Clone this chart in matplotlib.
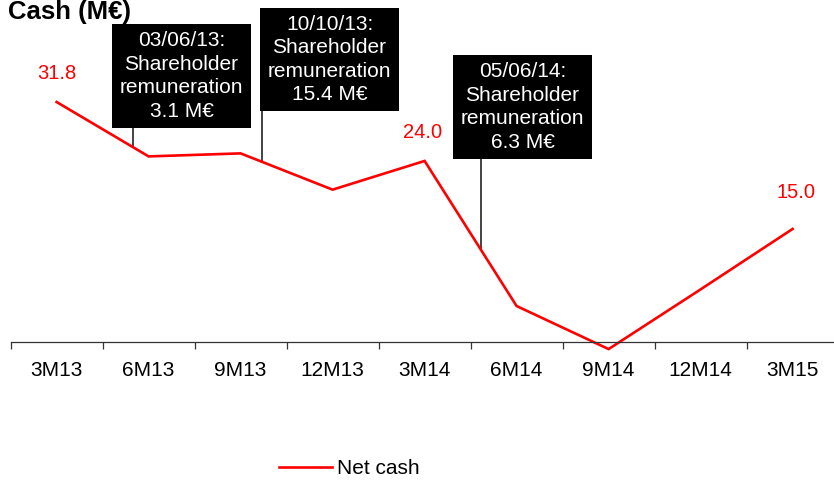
import numpy as np
import matplotlib
matplotlib.use("Agg")
import matplotlib.pyplot as plt
from matplotlib.patches import Rectangle

# quarterly net cash, M EUR
quarters = ["3M13", "6M13", "9M13", "12M13", "3M14", "6M14", "9M14", "12M14", "3M15"]
net_cash = [31.8, 24.6, 25.0, 20.2, 24.0, 4.8, -0.9, 7.0, 15.0]
labelled = [0, 4, 8]   # which points carry a value label

# shareholder remuneration events
notes = ["03/06/13:\nShareholder\nremuneration\n3.1 M€",
         "10/10/13:\nShareholder\nremuneration\n15.4 M€",
         "05/06/14:\nShareholder\nremuneration\n6.3 M€"]
note_x = [0.83, 2.233, 4.613]      # event position on the quarter axis

plt.rcParams['font.family'] = ['Liberation Sans', 'DejaVu Sans']
plt.rcParams['font.size'] = 15

fig = plt.figure(figsize=(8.34, 4.8), dpi=100)
ax = fig.add_axes([10.6/834, 1 - 357.4/480, 828/834, 357.4/480])

idx = np.arange(len(quarters))
line, = ax.plot(idx, net_cash, color='#ff0000', lw=1.9, label='Net cash',
                clip_on=False, solid_joinstyle='miter')

# value labels
offsets = {0: (0, 29), 4: (-2, 28), 8: (3, 36)}
for i in labelled:
    ax.annotate("%.1f" % net_cash[i], (idx[i], net_cash[i]), xytext=offsets[i],
                textcoords='offset pixels', ha='center', va='center',
                color='#ff0000', fontsize=14.5)

# black note boxes with a stem down to the curve
box_left = [0.602, 2.211, 4.309]
box_bottom = [28.36, 30.6, 24.26]
box_w, box_h = 1.511, 13.7
for txt, xe, bl, bb in zip(notes, note_x, box_left, box_bottom):
    ye = np.interp(xe, idx, net_cash)
    ax.plot([xe, xe], [ye, bb], color='#111111', lw=1.1, zorder=1)
    ax.add_patch(Rectangle((bl, bb), box_w, box_h, facecolor='black',
                           edgecolor='none', clip_on=False, zorder=3))
    ax.text(bl + box_w/2, bb + box_h/2, txt, color='white', ha='center',
            va='center', fontsize=15, linespacing=1.3, zorder=4)

ax.set_xlim(-0.5, 8.5)
ax.set_ylim(-2, 45.3)
for s in ['left', 'right', 'top']:
    ax.spines[s].set_visible(False)
ax.spines['bottom'].set_position(('data', 0))
ax.spines['bottom'].set_color('#333333')
ax.spines['bottom'].set_linewidth(0.9)
ax.set_yticks([])

ax.set_xticks(np.arange(-0.5, 9.0, 1.0))
ax.set_xticklabels([])
ax.set_xticks(idx, minor=True)
ax.set_xticklabels(quarters, minor=True)
ax.tick_params(axis='x', which='major', direction='out', length=4.7,
               width=0.9, color='#333333')
ax.tick_params(axis='x', which='minor', length=0, pad=13.5, labelsize=15)

fig.text(8/834, 1 - 19/480, "Cash (M€)", fontsize=18.5, fontweight='bold',
         ha='left', va='baseline')

fig.legend(handles=[line], loc='center', bbox_to_anchor=(0.419, 0.023),
           frameon=False, borderpad=0, handlelength=2.55, handletextpad=0.25,
           fontsize=15)

fig.savefig("out.png", dpi=100)
